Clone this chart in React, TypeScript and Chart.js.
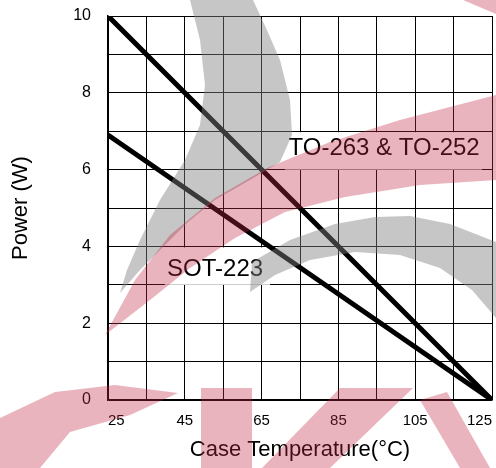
import React, { useEffect, useRef } from "react";
import { Chart, registerables } from "chart.js";

Chart.register(...registerables);

// ---- data ----
const CASE_TEMP_C = [25, 125];
const TO263_TO252_W = [10, 0];
const SOT223_W = [6.9, 0];

const X_TICKS = [25, 35, 45, 55, 65, 75, 85, 95, 105, 115, 125];
const X_LABELED = [25, 45, 65, 85, 105, 125];
const Y_TICKS = [0, 1, 2, 3, 4, 5, 6, 7, 8, 9, 10];
const Y_LABELED = [0, 2, 4, 6, 8, 10];

const SERIES_NAMES = ["TO-263 & TO-252", "SOT-223"];
// label boxes in data units: [xMin, xMax, yMin, yMax, textX, textY]
const LABEL_BOXES = [
  [71.1, 122.4, 6, 7, 96.9, 6.54],
  [39.8, 67.2, 3, 4, 52.9, 3.39],
];

// background watermark (decorative logo, canvas pixels)
const WM_GREY = "rgba(128,128,128,0.45)";
const WM_PINK = "rgba(192,41,69,0.35)";
const WM_GREY_SHAPES = [
  [[190, 0], [200, 40], [205, 85], [200, 125], [185, 160], [160, 200], [140, 240], [127, 270], [120, 293], [140, 270], [165, 245], [188, 222], [215, 200], [250, 180], [280, 162], [292, 135], [290, 100], [280, 60], [266, 28], [253, 0]],
  [[252, 262], [290, 240], [335, 224], [375, 217], [410, 216], [450, 224], [496, 242], [496, 318], [472, 290], [440, 268], [400, 255], [355, 252], [310, 260], [275, 275], [250, 292]],
];
const WM_PINK_SHAPES = [
  [[105, 335], [135, 280], [170, 235], [215, 198], [267, 168], [330, 142], [400, 120], [496, 95], [496, 180], [420, 185], [345, 197], [285, 212], [235, 238], [190, 268], [150, 300]],
  [[463, 0], [496, 0], [496, 14]],
  [[0, 418], [55, 392], [115, 385], [178, 393], [130, 415], [70, 432], [40, 468], [0, 468]],
  [[201, 388], [252, 388], [252, 468], [201, 468]],
  [[340, 388], [413, 388], [330, 468], [262, 468]],
  [[420, 400], [447, 392], [490, 468], [460, 468]],
];

const FONT = "Arial, 'Liberation Sans', sans-serif";

const labelPlugin = {
  id: "seriesLabels",
  beforeDatasetsDraw(chart: any) {
    const { ctx, scales } = chart;
    const x = scales.x;
    const y = scales.y;
    ctx.save();
    LABEL_BOXES.forEach((b, i) => {
      const x0 = x.getPixelForValue(b[0]);
      const x1 = x.getPixelForValue(b[1]);
      const y0 = y.getPixelForValue(b[3]);
      const y1 = y.getPixelForValue(b[2]);
      ctx.fillStyle = "#ffffff";
      ctx.fillRect(x0, y0 + 1, x1 - x0, y1 - y0 - 1);
      ctx.fillStyle = "#000000";
      ctx.font = `24px ${FONT}`;
      ctx.textAlign = "center";
      ctx.textBaseline = "middle";
      ctx.fillText(SERIES_NAMES[i], x.getPixelForValue(b[4]), y.getPixelForValue(b[5]));
    });
    ctx.restore();
  },
};

const watermarkPlugin = {
  id: "watermark",
  afterDraw(chart: any) {
    const { ctx } = chart;
    ctx.save();
    const fillPoly = (pts: number[][], color: string) => {
      ctx.beginPath();
      pts.forEach((p, i) => (i === 0 ? ctx.moveTo(p[0], p[1]) : ctx.lineTo(p[0], p[1])));
      ctx.closePath();
      ctx.fillStyle = color;
      ctx.fill();
    };
    WM_GREY_SHAPES.forEach((s) => fillPoly(s, WM_GREY));
    WM_PINK_SHAPES.forEach((s) => fillPoly(s, WM_PINK));
    ctx.restore();
  },
};

export default function App() {
  const ref = useRef<HTMLCanvasElement>(null);
  useEffect(() => {
    if (!ref.current) return;
    const chart = new Chart(ref.current, {
      type: "line",
      data: {
        datasets: [
          {
            label: SERIES_NAMES[0],
            data: CASE_TEMP_C.map((t, i) => ({ x: t, y: TO263_TO252_W[i] })),
            borderColor: "#000000",
            borderWidth: 5,
            pointRadius: 0,
            borderCapStyle: "round",
          },
          {
            label: SERIES_NAMES[1],
            data: CASE_TEMP_C.map((t, i) => ({ x: t, y: SOT223_W[i] })),
            borderColor: "#000000",
            borderWidth: 5,
            pointRadius: 0,
            borderCapStyle: "round",
          },
        ],
      },
      options: {
        animation: false,
        responsive: false,
        devicePixelRatio: 1,
        layout: { padding: { top: 16, right: 4, left: 0, bottom: 0 } },
        plugins: {
          legend: { display: false },
          tooltip: { enabled: false },
        },
        scales: {
          x: {
            type: "linear",
            min: 25,
            max: 125,
            afterBuildTicks: (s: any) => {
              s.ticks = X_TICKS.map((v) => ({ value: v }));
            },
            afterFit: (s: any) => {
              s.height = 68;
              s.paddingLeft = 0;
              s.paddingRight = 0;
            },
            grid: { color: "#000000", lineWidth: 1, drawTicks: false },
            border: { color: "#000000", width: 1.5 },
            ticks: {
              autoSkip: false,
              maxRotation: 0,
              align: "inner",
              padding: 12,
              color: "#000000",
              font: { family: FONT, size: 15 },
              callback: (v: any) => (X_LABELED.includes(Number(v)) ? String(v) : ""),
            },
            title: {
              display: true,
              text: "Case Temperature(°C)",
              color: "#000000",
              font: { family: FONT, size: 22 },
              padding: { top: 0, bottom: 5 },
            },
          },
          y: {
            type: "linear",
            min: 0,
            max: 10,
            afterBuildTicks: (s: any) => {
              s.ticks = Y_TICKS.map((v) => ({ value: v }));
            },
            afterFit: (s: any) => {
              s.width = 108;
              s.paddingTop = 0;
              s.paddingBottom = 0;
            },
            grid: { color: "#000000", lineWidth: 1, drawTicks: false },
            border: { color: "#000000", width: 1.5 },
            ticks: {
              autoSkip: false,
              padding: 17,
              color: "#000000",
              font: { family: FONT, size: 16 },
              callback: (v: any) => (Y_LABELED.includes(Number(v)) ? String(v) : ""),
            },
            title: {
              display: true,
              text: "Power (W)",
              color: "#000000",
              font: { family: FONT, size: 22 },
              padding: { top: 8, bottom: 0 },
            },
          },
        },
      } as any,
      plugins: [labelPlugin, watermarkPlugin],
    });
    return () => chart.destroy();
  }, []);
  return (
    <div style={{ position: "fixed", left: 0, top: 0, width: 496, height: 468, background: "#fff" }}>
      <canvas ref={ref} width={496} height={468} />
    </div>
  );
}
